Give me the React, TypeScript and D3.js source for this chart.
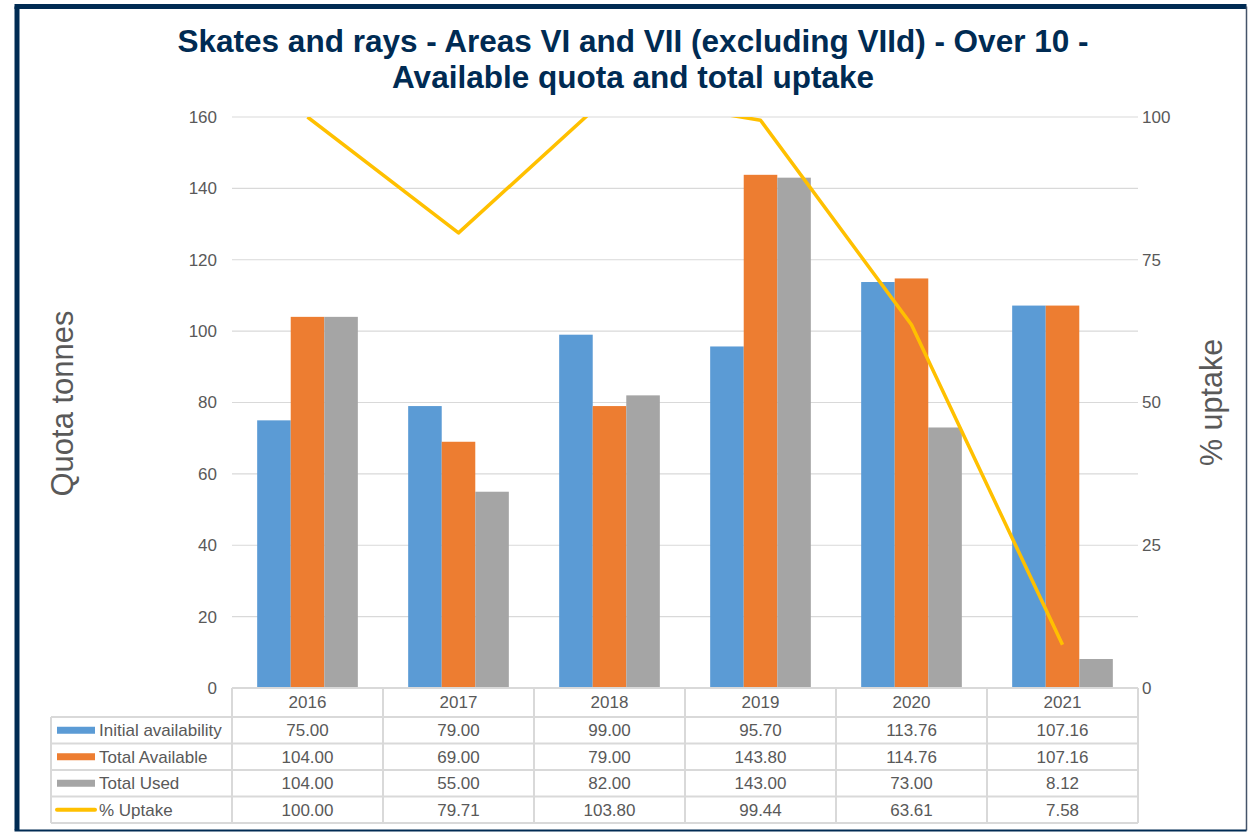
import React from 'react';
import * as d3 from 'd3';

const years = ['2016', '2017', '2018', '2019', '2020', '2021'];
const initialAvailability = [75.0, 79.0, 99.0, 95.7, 113.76, 107.16];
const totalAvailable = [104.0, 69.0, 79.0, 143.8, 114.76, 107.16];
const totalUsed = [104.0, 55.0, 82.0, 143.0, 73.0, 8.12];
const pctUptake = [100.0, 79.71, 103.8, 99.44, 63.61, 7.58];
const leftTicks = [0, 20, 40, 60, 80, 100, 120, 140, 160];
const rightTicks = [0, 25, 50, 75, 100];

const series = [
  { name: 'Initial availability', values: initialAvailability, color: '#5B9BD5' },
  { name: 'Total Available', values: totalAvailable, color: '#ED7D31' },
  { name: 'Total Used', values: totalUsed, color: '#A5A5A5' },
];

const W = 1248;
const H = 832;
const plot = { left: 232, right: 1138, top: 117, bottom: 688 };
const tableLeft = 51;
const rowH = 26.5;
const headerH = 29;
const font = '"Liberation Sans", Arial, sans-serif';
const textGrey = '#595959';
const gridGrey = '#D9D9D9';
const fs = 17;

export default function App() {
  const x = d3.scaleBand<string>().domain(years).range([plot.left, plot.right]);
  const y = d3.scaleLinear().domain([0, 160]).range([plot.bottom, plot.top]);
  const y2 = d3.scaleLinear().domain([0, 100]).range([plot.bottom, plot.top]);
  const inner = d3
    .scaleBand<number>()
    .domain([0, 1, 2])
    .range([0, x.bandwidth()])
    .paddingInner(0)
    .paddingOuter(0.75);

  const line = d3
    .line<number>()
    .x((_, i) => (x(years[i]) as number) + x.bandwidth() / 2)
    .y((d) => y2(d));

  const tableRows = [...series.map((s) => ({ name: s.name, values: s.values, color: s.color, isLine: false })),
    { name: '% Uptake', values: pctUptake, color: '#FFC000', isLine: true }];

  const tableTop = plot.bottom;
  const bodyTop = tableTop + headerH;
  const tableBottom = bodyTop + rowH * tableRows.length;

  return (
    <svg
      width={W}
      height={H}
      style={{ position: 'absolute', left: 0, top: 0, background: '#fff' }}
      fontFamily={font}
    >
      <defs>
        <clipPath id="plotClip">
          <rect x={plot.left} y={plot.top} width={plot.right - plot.left} height={plot.bottom - plot.top} />
        </clipPath>
      </defs>
      <rect x={0} y={0} width={W} height={H} fill="#fff" />
      {/* frame */}
      <line x1={17} y1={6.5} x2={17} y2={830} stroke="#002B53" strokeWidth={5} />
      <line x1={14.5} y1={6.5} x2={1246.5} y2={6.5} stroke="#002B53" strokeWidth={5} />
      <line x1={1246.5} y1={6.5} x2={1246.5} y2={830.5} stroke="#44546A" strokeWidth={1.5} />
      <line x1={14.5} y1={830.5} x2={1246.5} y2={830.5} stroke="#002B53" strokeWidth={2} />

      {/* title */}
      <text x={633} y={52} textAnchor="middle" fontSize={31.5} fontWeight="bold" fill="#002B53">
        Skates and rays - Areas VI and VII (excluding VIId) - Over 10 -
      </text>
      <text x={633} y={88} textAnchor="middle" fontSize={31.5} fontWeight="bold" fill="#002B53">
        Available quota and total uptake
      </text>

      {/* gridlines */}
      {leftTicks.filter((t) => t > 0).map((t) => (
        <line key={t} x1={plot.left} x2={plot.right} y1={y(t)} y2={y(t)} stroke={gridGrey} strokeWidth={1.2} />
      ))}

      {/* left ticks */}
      {leftTicks.map((t) => (
        <text key={t} x={217} y={y(t)} dy="0.35em" textAnchor="end" fontSize={fs} fill={textGrey}>
          {t}
        </text>
      ))}
      {/* right ticks */}
      {rightTicks.map((t) => (
        <text key={t} x={1142} y={y2(t)} dy="0.35em" textAnchor="start" fontSize={fs} fill={textGrey}>
          {t}
        </text>
      ))}

      {/* axis titles */}
      <text
        transform={`translate(73,${(plot.top + plot.bottom) / 2 + 1}) rotate(-90)`}
        textAnchor="middle"
        fontSize={31}
        fill={textGrey}
      >
        Quota tonnes
      </text>
      <text
        transform={`translate(1222,${(plot.top + plot.bottom) / 2}) rotate(-90)`}
        textAnchor="middle"
        fontSize={30.5}
        fill={textGrey}
      >
        % uptake
      </text>

      {/* bars */}
      {series.map((s, si) =>
        s.values.map((v, i) => (
          <rect
            key={`${si}-${i}`}
            x={(x(years[i]) as number) + (inner(si) as number)}
            y={y(v)}
            width={inner.bandwidth()}
            height={y(0) - y(v)}
            fill={s.color}
          />
        ))
      )}

      {/* uptake line */}
      <path
        d={line(pctUptake) || ''}
        fill="none"
        stroke="#FFC000"
        strokeWidth={3.5}
        strokeLinejoin="round"
        clipPath="url(#plotClip)"
      />

      {/* data table */}
      <g stroke={gridGrey} strokeWidth={2} fill="none">
        <line x1={plot.left} x2={plot.right} y1={tableTop} y2={tableTop} />
        {d3.range(tableRows.length + 1).map((r) => (
          <line key={r} x1={tableLeft} x2={plot.right} y1={bodyTop + r * rowH} y2={bodyTop + r * rowH} />
        ))}
        <line x1={tableLeft} x2={tableLeft} y1={bodyTop} y2={tableBottom} />
        {years.map((yr) => (
          <line key={yr} x1={x(yr) as number} x2={x(yr) as number} y1={tableTop} y2={tableBottom} />
        ))}
        <line x1={plot.right} x2={plot.right} y1={tableTop} y2={tableBottom} />
      </g>
      {years.map((yr) => (
        <text
          key={yr}
          x={(x(yr) as number) + x.bandwidth() / 2}
          y={tableTop + headerH / 2}
          dy="0.35em"
          textAnchor="middle"
          fontSize={fs}
          fill={textGrey}
        >
          {yr}
        </text>
      ))}
      {tableRows.map((row, r) => {
        const cy = bodyTop + r * rowH + rowH / 2;
        return (
          <g key={row.name}>
            {row.isLine ? (
              <line x1={57} x2={95} y1={cy} y2={cy} stroke={row.color} strokeWidth={4} strokeLinecap="round" />
            ) : (
              <rect x={57} y={cy - 3.5} width={38} height={7} fill={row.color} />
            )}
            <text x={99} y={cy} dy="0.35em" fontSize={fs} fill={textGrey}>
              {row.name}
            </text>
            {row.values.map((v, i) => (
              <text
                key={i}
                x={(x(years[i]) as number) + x.bandwidth() / 2}
                y={cy}
                dy="0.35em"
                textAnchor="middle"
                fontSize={fs}
                fill={textGrey}
              >
                {v.toFixed(2)}
              </text>
            ))}
          </g>
        );
      })}
    </svg>
  );
}
